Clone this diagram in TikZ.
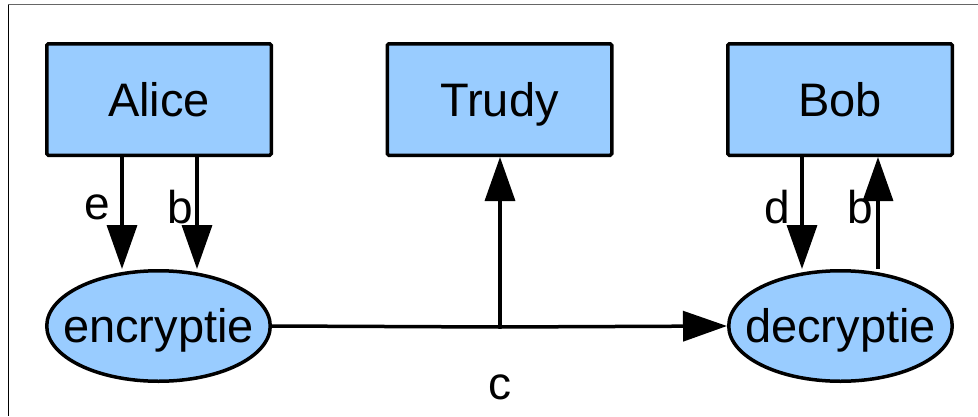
\documentclass[tikz,border=0pt]{standalone}
\usepackage{fontspec}
\setmainfont{Liberation Sans}
\usetikzlibrary{arrows.meta,shapes.geometric}
\definecolor{boxblue}{HTML}{99CCFF}
\tikzset{
  party/.style={draw=black, fill=boxblue, line width=3.5pt, rounded corners=1.5pt,
    minimum width=224.5pt, minimum height=111.5pt, inner sep=0pt,
    text height=40pt, text depth=7pt,
    font=\fontsize{47}{56}\selectfont},
  proc/.style={ellipse, draw=black, fill=boxblue, line width=3.5pt,
    minimum width=223.5pt, minimum height=110.5pt, inner sep=0pt,
    text height=40pt, text depth=7pt,
    font=\fontsize{47}{56}\selectfont},
  arr/.style={line width=3.5pt, -{Triangle[length=44pt,width=30pt]}},
  lbl/.style={inner sep=0pt, font=\fontsize{46}{55}\selectfont}
}
\begin{document}
\begin{tikzpicture}[x=1pt,y=-1pt]
\useasboundingbox (0,0) rectangle (978,416);
\fill[white] (0,0) rectangle (978,416);
\draw[gray!80!black, line width=1pt] (8,4.5) -- (978,4.5);
\draw[black, line width=1pt] (8,4.5) -- (8,416);
\node[party] (alice) at (159,99.5) {Alice};
\node[party] (trudy) at (499.5,99.5) {Trudy};
\node[party] (bob) at (840,99.5) {Bob};
\node[proc] (enc) at (158.5,326) {\makebox[0pt]{encryptie}};
\node[proc] (dec) at (840.5,326) {\makebox[0pt]{decryptie}};
\coordinate (split) at (500,327);
\draw[arr] ([xshift=-37pt]alice.south) -- ([xshift=-37pt]alice.south |- enc.north);
\draw[arr] ([xshift=38pt]alice.south) -- ([xshift=38pt]alice.south |- enc.north);
\draw[arr] ([xshift=-38pt]bob.south) -- ([xshift=-38pt]bob.south |- dec.north);
\draw[arr] ([xshift=38pt]bob.south |- dec.north) -- ([xshift=38pt]bob.south);
\draw[line width=3.5pt] (enc.east) -- (split);
\draw[arr] (split) -- (dec.west);
\draw[arr] (split) -- (split |- trudy.south);
\node[lbl] (le) at (97,207) {e};
\node[lbl] (lb1) at (180,207) {b};
\node[lbl] (ld) at (777,207) {d};
\node[lbl] (lb2) at (860,207) {b};
\node[lbl] (lc) at (500,387) {c};
\end{tikzpicture}
\end{document}
